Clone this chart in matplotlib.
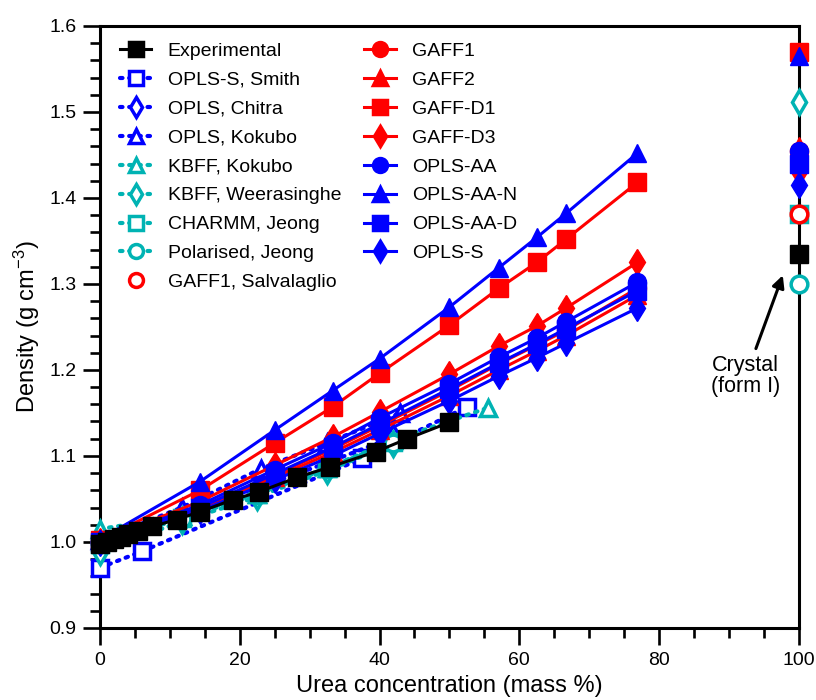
import matplotlib
matplotlib.use("Agg")
import matplotlib.pyplot as plt
from matplotlib.ticker import MultipleLocator
from matplotlib.lines import Line2D

plt.rcParams['font.family'] = ['Liberation Sans', 'DejaVu Sans']
plt.rcParams['mathtext.fontset'] = 'custom'
plt.rcParams['mathtext.rm'] = 'Liberation Sans'
plt.rcParams['mathtext.it'] = 'Liberation Sans'

BLUE = '#0000ff'
RED = '#ff0000'
CYAN = '#00b3b3'

# ---- experimental solution densities ----
exp_x = [0, 1, 2, 3, 4, 5.5, 7.5, 11, 14.3, 19, 22.7, 28.2, 32.9, 39.5, 44, 50]
exp_y = [0.997, 1.000, 1.003, 1.006, 1.009, 1.013, 1.018, 1.026, 1.035, 1.049, 1.058,
         1.075, 1.087, 1.105, 1.120, 1.139]

# ---- literature force fields (dotted, open symbols) ----
smith_x = [0, 6, 37.5, 52.5]
smith_y = [0.970, 0.989, 1.097, 1.157]
chitra_x = [0, 11.7, 22.4, 32.5, 42]
chitra_y = [1.000, 1.032, 1.062, 1.092, 1.122]
opls_kok_x = [0, 11.7, 23, 32.5, 43]
opls_kok_y = [1.002, 1.040, 1.085, 1.115, 1.150]
kbff_kok_x = [0, 11.7, 22.4, 32.5, 42, 55.5]
kbff_kok_y = [1.015, 1.030, 1.056, 1.086, 1.118, 1.156]
kbff_wee_x = [0, 11.7, 22.4, 32.5, 42]
kbff_wee_y = [0.988, 1.024, 1.052, 1.083, 1.114]
charmm_x = [0, 11.7, 22.4, 32.5, 42]
charmm_y = [0.998, 1.028, 1.056, 1.086, 1.116]
polar_x = [0, 11.7, 22.4, 32.5, 42]
polar_y = [0.999, 1.027, 1.055, 1.085, 1.115]

# ---- force fields from this work (solid, filled symbols) ----
sim_x = [0, 14.3, 25, 33.3, 40, 50, 57.1, 62.5, 66.7, 76.9]
gaff1_y = [1.000, 1.040, 1.078, 1.108, 1.135, 1.176, 1.207, 1.229, 1.246, 1.295]
gaff2_y = [1.000, 1.038, 1.075, 1.104, 1.130, 1.170, 1.200, 1.222, 1.240, 1.287]
gaffd1_y = [1.002, 1.060, 1.115, 1.157, 1.196, 1.252, 1.295, 1.325, 1.352, 1.418]
gaffd3_y = [1.001, 1.047, 1.089, 1.122, 1.151, 1.195, 1.228, 1.251, 1.272, 1.325]
oplsaa_y = [1.000, 1.043, 1.084, 1.115, 1.144, 1.184, 1.215, 1.237, 1.256, 1.302]
oplsaan_y = [1.003, 1.070, 1.130, 1.176, 1.213, 1.273, 1.319, 1.354, 1.382, 1.452]
oplsaad_y = [1.000, 1.040, 1.079, 1.110, 1.137, 1.178, 1.208, 1.230, 1.248, 1.292]
oplss_y = [0.999, 1.036, 1.072, 1.100, 1.126, 1.164, 1.193, 1.214, 1.231, 1.272]

# ---- crystal (form I) densities at 100 mass % ----
cryst_x = 100
cryst = {
    'Experimental': 1.335, 'KBFF, Weerasinghe': 1.512, 'CHARMM, Jeong': 1.381,
    'Polarised, Jeong': 1.300, 'GAFF1, Salvalaglio': 1.381,
    'GAFF1': 1.455, 'GAFF2': 1.460, 'GAFF-D1': 1.570, 'GAFF-D3': 1.430,
    'OPLS-AA': 1.455, 'OPLS-AA-N': 1.565, 'OPLS-AA-D': 1.440, 'OPLS-S': 1.415,
}

fig = plt.figure(figsize=(8.16, 7.0), dpi=100)
ax = fig.add_axes([0.1225, 0.103, 0.8565, 0.860])

MS = 13      # filled symbols
MS_OPEN = 12  # open symbols
MEW = 2.5
LW = 2.2
DOT = (0, (0.6, 1.6))

def lit(x, y, marker, color, label):
    ax.plot(x, y, linestyle=DOT, dash_capstyle='round', lw=3, color=color,
            marker=marker, ms=MS_OPEN, mfc='white', mec=color, mew=MEW,
            zorder=3, clip_on=False)
    if label in cryst:
        ax.plot([cryst_x], [cryst[label]], marker=marker, ms=MS_OPEN, mfc='white',
                mec=color, mew=MEW, ls='none', zorder=5, clip_on=False)

def sim(y, marker, color, label):
    ax.plot(sim_x, y, '-', lw=LW, color=color, marker=marker, ms=MS, mfc=color,
            mec=color, zorder=4, clip_on=False)
    ax.plot([cryst_x], [cryst[label]], marker=marker, ms=MS, mfc=color, mec=color,
            ls='none', zorder=4, clip_on=False)

# experimental
ax.plot(exp_x, exp_y, '-', lw=LW, color='black', marker='s', ms=MS, mfc='black',
        mec='black', zorder=6, clip_on=False)
ax.plot([cryst_x], [cryst['Experimental']], marker='s', ms=MS, color='black', ls='none',
        zorder=6, clip_on=False)

lit(smith_x, smith_y, 's', BLUE, 'OPLS-S, Smith')
lit(chitra_x, chitra_y, 'd', BLUE, 'OPLS, Chitra')
lit(opls_kok_x, opls_kok_y, '^', BLUE, 'OPLS, Kokubo')
lit(kbff_kok_x, kbff_kok_y, '^', CYAN, 'KBFF, Kokubo')
lit(kbff_wee_x, kbff_wee_y, 'd', CYAN, 'KBFF, Weerasinghe')
lit(charmm_x, charmm_y, 's', CYAN, 'CHARMM, Jeong')
lit(polar_x, polar_y, 'o', CYAN, 'Polarised, Jeong')

sim(gaff1_y, 'o', RED, 'GAFF1')
sim(gaff2_y, '^', RED, 'GAFF2')
sim(gaffd1_y, 's', RED, 'GAFF-D1')
sim(gaffd3_y, 'd', RED, 'GAFF-D3')
sim(oplsaa_y, 'o', BLUE, 'OPLS-AA')
sim(oplsaan_y, '^', BLUE, 'OPLS-AA-N')
sim(oplsaad_y, 's', BLUE, 'OPLS-AA-D')
sim(oplss_y, 'd', BLUE, 'OPLS-S')

ax.plot([cryst_x], [cryst['GAFF1, Salvalaglio']], marker='o', ms=MS_OPEN, mfc='white',
        mec=RED, mew=MEW, ls='none', zorder=7, clip_on=False)

# legend
def lh(marker, color, ls, filled):
    if ls is None:
        style = 'none'
    elif ls == '-':
        style = '-'
    else:
        style = DOT
    return Line2D([], [], color=color, lw=(LW if ls == '-' else 3), linestyle=style,
                  dash_capstyle='round', marker=marker, ms=10,
                  mfc=color if filled else 'white', mec=color, mew=MEW)

entries = [
    (lh('s', 'black', '-', True), 'Experimental'),
    (lh('s', BLUE, ':', False), 'OPLS-S, Smith'),
    (lh('d', BLUE, ':', False), 'OPLS, Chitra'),
    (lh('^', BLUE, ':', False), 'OPLS, Kokubo'),
    (lh('^', CYAN, ':', False), 'KBFF, Kokubo'),
    (lh('d', CYAN, ':', False), 'KBFF, Weerasinghe'),
    (lh('s', CYAN, ':', False), 'CHARMM, Jeong'),
    (lh('o', CYAN, ':', False), 'Polarised, Jeong'),
    (lh('o', RED, None, False), 'GAFF1, Salvalaglio'),
    (lh('o', RED, '-', True), 'GAFF1'),
    (lh('^', RED, '-', True), 'GAFF2'),
    (lh('s', RED, '-', True), 'GAFF-D1'),
    (lh('d', RED, '-', True), 'GAFF-D3'),
    (lh('o', BLUE, '-', True), 'OPLS-AA'),
    (lh('^', BLUE, '-', True), 'OPLS-AA-N'),
    (lh('s', BLUE, '-', True), 'OPLS-AA-D'),
    (lh('d', BLUE, '-', True), 'OPLS-S'),
]
ax.legend([e[0] for e in entries], [e[1] for e in entries], ncol=2, frameon=False,
          loc='upper left', bbox_to_anchor=(0.012, 0.992), fontsize=14,
          handlelength=1.6, handletextpad=0.85, columnspacing=1.2, labelspacing=0.58,
          borderaxespad=0.2)

ax.annotate('Crystal\n(form I)', xy=(97.7, 1.31), xytext=(92.4, 1.217),
            ha='center', va='top', fontsize=15.5, linespacing=1.0,
            arrowprops=dict(arrowstyle='-|>', lw=2.2, color='black',
                            mutation_scale=18, shrinkA=3, shrinkB=0))

ax.set_xlim(0, 100)
ax.set_ylim(0.9, 1.6)
ax.xaxis.set_major_locator(MultipleLocator(20))
ax.xaxis.set_minor_locator(MultipleLocator(5))
ax.yaxis.set_major_locator(MultipleLocator(0.1))
ax.yaxis.set_minor_locator(MultipleLocator(0.02))
ax.yaxis.set_major_formatter(plt.FormatStrFormatter('%.1f'))
ax.tick_params(which='both', direction='out', width=1.9, top=False, right=False,
               labelsize=14, pad=5)
ax.tick_params(which='major', length=12)
ax.tick_params(which='minor', length=7)
for s in ax.spines.values():
    s.set_linewidth(2.2)

ax.set_xlabel('Urea concentration (mass %)', fontsize=17, labelpad=5)
ax.set_ylabel('Density (g cm$^{-3}$)', fontsize=17, labelpad=5)

fig.savefig('out.png', dpi=100)
